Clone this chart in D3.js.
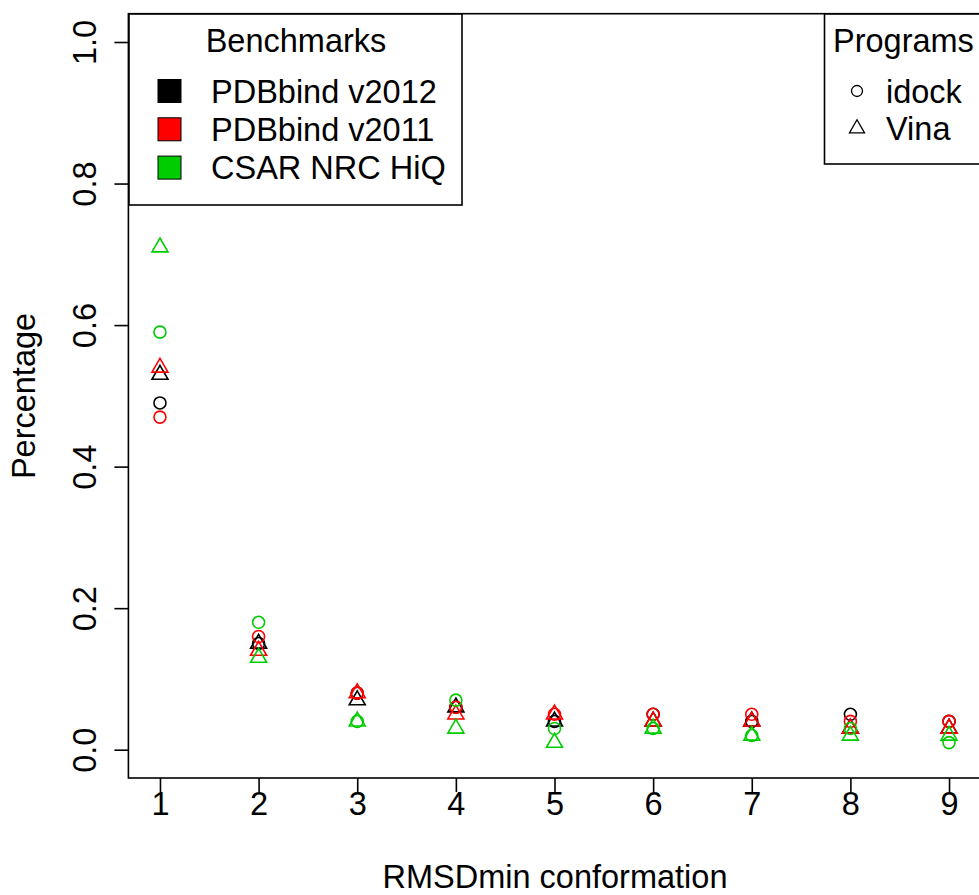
<!DOCTYPE html>
<html>
<head>
<meta charset="utf-8">
<script src="https://cdn.jsdelivr.net/npm/d3@7"></script>
<style>
  body { margin: 0; background: #fff; }
  svg { display: block; font-family: "Liberation Sans", Arial, sans-serif; }
</style>
</head>
<body>
<svg></svg>
<script>
// values
const rmsd = [1, 2, 3, 4, 5, 6, 7, 8, 9];
const idock2012 = [0.49, 0.15, 0.08, 0.06, 0.04, 0.05, 0.04, 0.05, 0.04];
const vina2012 = [0.53, 0.15, 0.07, 0.06, 0.04, 0.04, 0.04, 0.03, 0.03];
const idock2011 = [0.47, 0.16, 0.08, 0.06, 0.05, 0.05, 0.05, 0.04, 0.04];
const vina2011 = [0.54, 0.14, 0.08, 0.05, 0.05, 0.04, 0.04, 0.03, 0.03];
const idockCsar = [0.59, 0.18, 0.04, 0.07, 0.03, 0.03, 0.02, 0.03, 0.01];
const vinaCsar = [0.71, 0.13, 0.04, 0.03, 0.01, 0.03, 0.02, 0.02, 0.02];

const benchmarks = ["PDBbind v2012", "PDBbind v2011", "CSAR NRC HiQ"];
const colors = ["#000000", "#FF0000", "#00CD00"];
const programs = ["idock", "Vina"];
const yTicks = [0, 0.2, 0.4, 0.6, 0.8, 1.0];

const series = [
	{ bench: 0, prog: 0, values: idock2012 },
	{ bench: 0, prog: 1, values: vina2012 },
	{ bench: 1, prog: 0, values: idock2011 },
	{ bench: 1, prog: 1, values: vina2011 },
	{ bench: 2, prog: 0, values: idockCsar },
	{ bench: 2, prog: 1, values: vinaCsar },
];

const fontSize = 32.5;
const lw = 1.6;
const R = 6;

const svg = d3.select("svg").attr("width", 979).attr("height", 895);

const x = d3.scaleLinear().domain([0.68, 9.32]).range([128.4, 980.6]);
const y = d3.scaleLinear().domain([-0.04, 1.04]).range([778, 13.7]);

// R pch=2 triangle
function triangle(r) {
	const t0 = Math.sqrt((4 * Math.PI) / (3 * Math.sqrt(3)));
	const top = t0 * r, half = (t0 * Math.sqrt(3) / 2) * r, bot = (t0 / 2) * r;
	return `M0,${-top}L${half},${bot}L${-half},${bot}Z`;
}

// axes
const yAxis = d3.axisLeft(y).tickValues(yTicks).tickSize(14).tickFormat(d3.format(".1f"));
const yg = svg.append("g").attr("transform", `translate(${x.range()[0]},0)`).call(yAxis);
yg.select(".domain").remove();
yg.selectAll("line").attr("stroke-width", lw);
yg.selectAll("text")
	.attr("x", null).attr("dy", null)
	.attr("text-anchor", "middle")
	.attr("transform", "translate(-32,0) rotate(-90)")
	.attr("font-size", fontSize).attr("fill", "#000");

const xAxis = d3.axisBottom(x).tickValues(rmsd).tickSize(14).tickFormat(d3.format("d"));
const xg = svg.append("g").attr("transform", `translate(0,${y.range()[0]})`).call(xAxis);
xg.select(".domain").remove();
xg.selectAll("line").attr("stroke-width", lw);
xg.selectAll("text").attr("y", 37).attr("dy", null)
	.attr("font-size", fontSize).attr("fill", "#000");
svg.selectAll(".tick text").attr("font-family", null);
svg.selectAll("g").attr("font-family", null);

// plot box
svg.append("rect")
	.attr("x", x.range()[0]).attr("y", y.range()[1])
	.attr("width", x.range()[1] - x.range()[0])
	.attr("height", y.range()[0] - y.range()[1])
	.attr("fill", "none").attr("stroke", "#000").attr("stroke-width", lw);

// axis titles
svg.append("text")
	.attr("x", 555).attr("y", 888)
	.attr("text-anchor", "middle").attr("font-size", fontSize)
	.text("RMSDmin conformation");
svg.append("text")
	.attr("transform", "translate(35,396) rotate(-90)")
	.attr("text-anchor", "middle").attr("font-size", fontSize)
	.text("Percentage");

// points
const pts = svg.append("g").attr("class", "points");
series.forEach((s) => {
	const g = pts.append("g");
	const sel = g.selectAll("path").data(s.values).enter();
	if (s.prog === 0) {
		sel.append("circle")
			.attr("cx", (_, i) => x(rmsd[i]))
			.attr("cy", (d) => y(d))
			.attr("r", R);
	} else {
		sel.append("path")
			.attr("transform", (d, i) => `translate(${x(rmsd[i])},${y(d)})`)
			.attr("d", triangle(5.94));
	}
	g.selectAll("circle, path")
		.attr("fill", "none")
		.attr("stroke", colors[s.bench])
		.attr("stroke-width", lw);
});

// legend: Benchmarks
const lb = svg.append("g");
lb.append("rect")
	.attr("x", 129).attr("y", 14).attr("width", 333).attr("height", 191)
	.attr("fill", "#fff").attr("stroke", "#000").attr("stroke-width", lw);
lb.append("text")
	.attr("x", 296).attr("y", 52).attr("text-anchor", "middle")
	.attr("font-size", fontSize).text("Benchmarks");
const rowsB = lb.selectAll("g.row").data(benchmarks).enter().append("g")
	.attr("transform", (_, i) => `translate(0,${91 + i * 38.3})`);
rowsB.append("rect")
	.attr("x", 158).attr("y", -11.5).attr("width", 23).attr("height", 23)
	.attr("fill", (_, i) => colors[i]).attr("stroke", "#000").attr("stroke-width", 1);
rowsB.append("text")
	.attr("x", 211).attr("y", 11.5)
	.attr("font-size", fontSize).text((d) => d);

// legend: Programs
const lp = svg.append("g");
lp.append("rect")
	.attr("x", 824.5).attr("y", 14).attr("width", 200).attr("height", 150)
	.attr("fill", "#fff").attr("stroke", "#000").attr("stroke-width", lw);
lp.append("text")
	.attr("x", 833).attr("y", 52)
	.attr("font-size", fontSize).text("Programs");
const rowsP = lp.selectAll("g.row").data(programs).enter().append("g")
	.attr("transform", (_, i) => `translate(857,${91 + i * 37.5})`);
rowsP.each(function (d, i) {
	const g = d3.select(this);
	if (i === 0) g.append("circle").attr("r", R - 0.5);
	else g.append("path").attr("d", triangle(5.6));
	g.selectAll("circle, path").attr("fill", "none").attr("stroke", "#000").attr("stroke-width", 1.3);
});
rowsP.append("text")
	.attr("x", 29).attr("y", 11.5)
	.attr("font-size", fontSize).text((d) => d);
</script>
</body>
</html>
